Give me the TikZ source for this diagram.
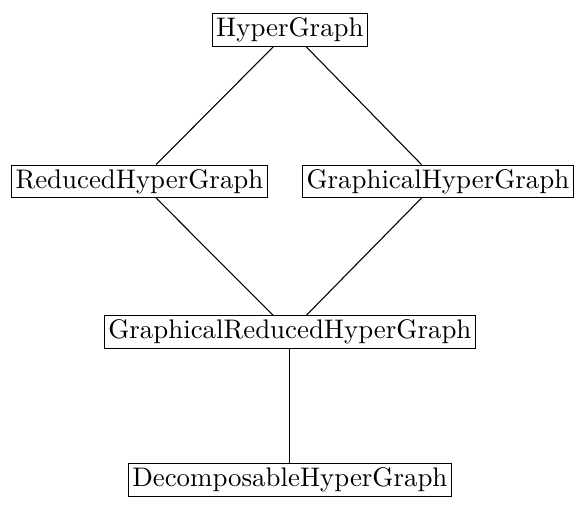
\documentclass[tikz,border=0pt]{standalone}
\usepackage{tikz}
\usetikzlibrary{positioning}

\tikzset{
  classbox/.style={draw,rectangle,inner sep=1.5pt,line width=0.4pt}
}

\begin{document}
\begin{tikzpicture}[x=1pt,y=1pt]
  \useasboundingbox (0,0) rectangle (214.4,-188.0);
  \node[classbox] (HG) at (107.9,-11.2) {HyperGraph};
  \node[classbox] (RHG) at (51.9,-67.5) {ReducedHyperGraph};
  \node[classbox] (GHG) at (163.0,-67.5) {GraphicalHyperGraph};
  \node[classbox] (GRHG) at (107.9,-123.6) {GraphicalReducedHyperGraph};
  \node[classbox] (DHG) at (107.9,-178.6) {DecomposableHyperGraph};
  \draw (HG) -- (RHG);
  \draw (HG) -- (GHG);
  \draw (RHG) -- (GRHG);
  \draw (GHG) -- (GRHG);
  \draw (GRHG) -- (DHG);
\end{tikzpicture}
\end{document}
